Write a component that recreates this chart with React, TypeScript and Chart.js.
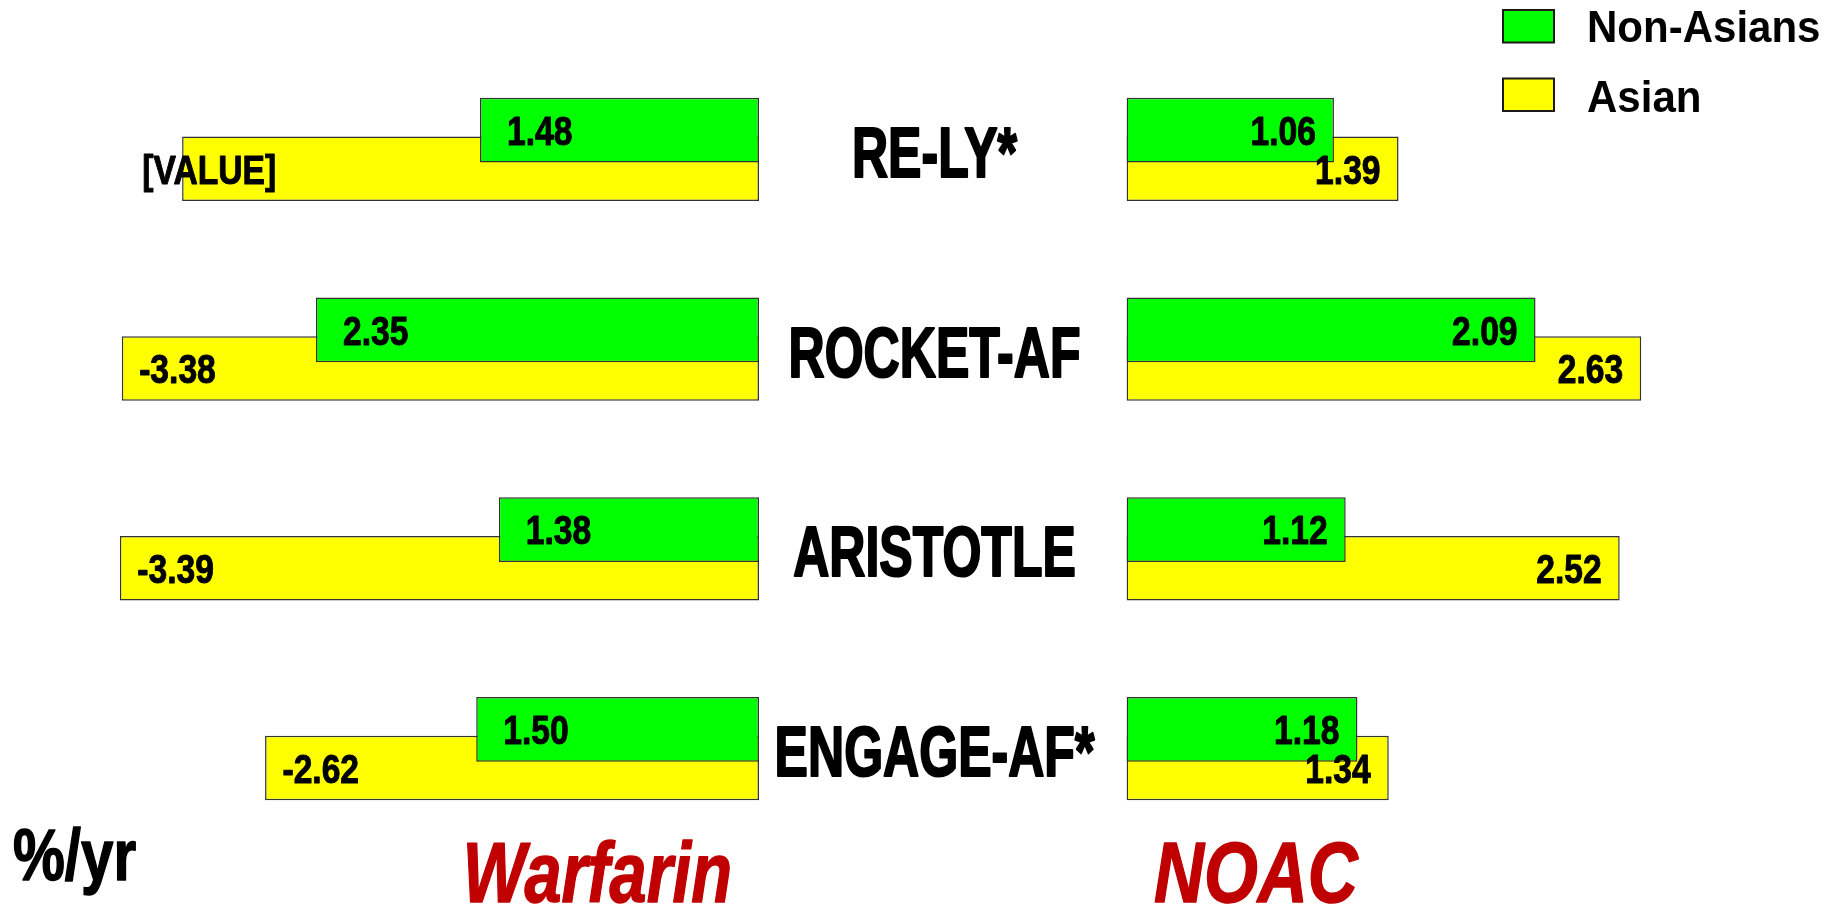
import React, { useEffect, useRef } from "react";
import { Chart, registerables } from "chart.js";

Chart.register(...registerables);

// ---------------- data ----------------
const categories = ["RE-LY*", "ROCKET-AF", "ARISTOTLE", "ENGAGE-AF*"];
const seriesNames = ["Non-Asians", "Asian"];
const warfarinNonAsians = [1.48, 2.35, 1.38, 1.5];
const warfarinAsian = [3.06, 3.38, 3.39, 2.62];
const noacNonAsians = [1.06, 2.09, 1.12, 1.18];
const noacAsian = [1.39, 2.63, 2.52, 1.34];
const warfarinNonAsiansLabels = ["1.48", "2.35", "1.38", "1.50"];
const warfarinAsianLabels = ["[VALUE]", "-3.38", "-3.39", "-2.62"];
const noacNonAsiansLabels = ["1.06", "2.09", "1.12", "1.18"];
const noacAsianLabels = ["1.39", "2.63", "2.52", "1.34"];
const panelTitles = ["Warfarin", "NOAC"];
const unitLabel = "%/yr";
const warfarinAxisMax = 4.026;
const noacAxisMax = 3.661;

// ---------------- styles / layout ----------------
const W = 1843;
const H = 907;
const SPLIT = 759;
const NOAC_LEFT = 1126.5;
const PAD_TOP = 49.6;
const PAD_BOTTOM = 58.4;
const GREEN = "#00FF00";
const YELLOW = "#FFFF00";
const EDGE = "#333333";
const TITLE_RED = "#C00000";
const FONT = '"Liberation Sans", Arial, Helvetica, sans-serif';
const VALUE_SIZE = 41;

function drawText(
  ctx: CanvasRenderingContext2D,
  text: string,
  x: number,
  y: number,
  font: string,
  scaleX: number,
  align: CanvasTextAlign,
  color: string,
  heavy = 0
) {
  ctx.save();
  ctx.font = font;
  ctx.fillStyle = color;
  ctx.textAlign = align;
  ctx.textBaseline = "alphabetic";
  ctx.translate(x, y);
  ctx.scale(scaleX, 1);
  ctx.fillText(text, 0, 0);
  if (heavy > 0) {
    ctx.strokeStyle = color;
    ctx.lineWidth = heavy;
    ctx.lineJoin = "round";
    ctx.strokeText(text, 0, 0);
  }
  ctx.restore();
}

function makeDatasets(a: number[], b: number[]) {
  const common = {
    borderColor: EDGE,
    borderWidth: 1.5,
    borderSkipped: false as const,
    categoryPercentage: 0.3875,
    barPercentage: 1.667,
  };
  return [
    { ...common, label: seriesNames[0], data: a, backgroundColor: GREEN },
    { ...common, label: seriesNames[1], data: b, backgroundColor: YELLOW },
  ];
}

const valueFont = `bold ${VALUE_SIZE}px ${FONT}`;
const valueBaseline = VALUE_SIZE * 0.358;

const warfarinTextPlugin = {
  id: "warfarinText",
  afterDatasetsDraw(chart: any) {
    const ctx = chart.ctx as CanvasRenderingContext2D;
    chart.getDatasetMeta(0).data.forEach((el: any, i: number) => {
      const p = el.getProps(["x", "y"], true);
      drawText(ctx, warfarinNonAsiansLabels[i], p.x + 27, p.y + valueBaseline, valueFont, 0.82, "left", "#000", 1);
    });
    chart.getDatasetMeta(1).data.forEach((el: any, i: number) => {
      const p = el.getProps(["x", "y"], true);
      drawText(ctx, warfarinAsianLabels[i], p.x + 94, p.y + valueBaseline, valueFont, 0.82, "right", "#000", 1);
    });
    drawText(ctx, unitLabel, 13, 880, `bold 72px ${FONT}`, 0.81, "left", "#000", 1.5);
    drawText(ctx, panelTitles[0], 462.7, 901.7, `italic bold 86px ${FONT}`, 0.775, "left", TITLE_RED, 1.5);
  },
};

const noacTextPlugin = {
  id: "noacText",
  afterDatasetsDraw(chart: any) {
    const ctx = chart.ctx as CanvasRenderingContext2D;
    const area = chart.chartArea;
    chart.getDatasetMeta(0).data.forEach((el: any, i: number) => {
      const p = el.getProps(["x", "y"], true);
      drawText(ctx, noacNonAsiansLabels[i], p.x - 18, p.y + valueBaseline, valueFont, 0.82, "right", "#000", 1);
    });
    chart.getDatasetMeta(1).data.forEach((el: any, i: number) => {
      const p = el.getProps(["x", "y"], true);
      drawText(ctx, noacAsianLabels[i], p.x - 18, p.y + valueBaseline, valueFont, 0.82, "right", "#000", 1);
    });
    // category labels, centred between the two panels
    const yScale = chart.scales.y;
    const catX = area.left - (NOAC_LEFT - 934.5);
    categories.forEach((c, i) => {
      const cy = yScale.getPixelForValue(i);
      drawText(ctx, c, catX, cy + 71 * 0.358 + 2, `bold 71px ${FONT}`, 0.705, "center", "#000", 2.2);
    });
    // legend
    const ox = -SPLIT;
    const boxes = [
      { y: 10, text: seriesNames[0], base: 42, color: chart.data.datasets[0].backgroundColor },
      { y: 78.5, text: seriesNames[1], base: 111.5, color: chart.data.datasets[1].backgroundColor },
    ];
    boxes.forEach((b) => {
      ctx.save();
      ctx.fillStyle = b.color;
      ctx.strokeStyle = "#1a1a1a";
      ctx.lineWidth = 2;
      ctx.fillRect(1503 + ox, b.y, 51, 32.5);
      ctx.strokeRect(1503 + ox, b.y, 51, 32.5);
      ctx.restore();
      drawText(ctx, b.text, 1587 + ox, b.base, `bold 44px ${FONT}`, 0.955, "left", "#000");
    });
    drawText(ctx, panelTitles[1], 1154 + ox, 901.7, `italic bold 86px ${FONT}`, 0.805, "left", TITLE_RED, 1.5);
  },
};

function baseOptions(max: number, reverse: boolean, padLeft: number): any {
  return {
    indexAxis: "y",
    animation: false,
    responsive: false,
    events: [],
    layout: { padding: { top: PAD_TOP, bottom: PAD_BOTTOM, left: padLeft, right: 0 } },
    scales: {
      x: { display: false, min: 0, max, reverse },
      y: { display: false },
    },
    plugins: {
      legend: { display: false },
      tooltip: { enabled: false },
      title: { display: false },
    },
  };
}

export default function App() {
  const leftRef = useRef<HTMLCanvasElement>(null);
  const rightRef = useRef<HTMLCanvasElement>(null);

  useEffect(() => {
    const left = new Chart(leftRef.current as HTMLCanvasElement, {
      type: "bar",
      data: { labels: categories, datasets: makeDatasets(warfarinNonAsians, warfarinAsian) as any },
      options: baseOptions(warfarinAxisMax, true, 0),
      plugins: [warfarinTextPlugin],
    });
    const right = new Chart(rightRef.current as HTMLCanvasElement, {
      type: "bar",
      data: { labels: categories, datasets: makeDatasets(noacNonAsians, noacAsian) as any },
      options: baseOptions(noacAxisMax, false, NOAC_LEFT - SPLIT),
      plugins: [noacTextPlugin],
    });
    return () => {
      left.destroy();
      right.destroy();
    };
  }, []);

  return (
    <div
      style={{
        position: "absolute",
        left: 0,
        top: 0,
        width: W,
        height: H,
        background: "#ffffff",
        overflow: "hidden",
      }}
    >
      <div style={{ position: "absolute", left: 0, top: 0, width: SPLIT, height: H }}>
        <canvas ref={leftRef} width={SPLIT} height={H} style={{ display: "block" }} />
      </div>
      <div style={{ position: "absolute", left: SPLIT, top: 0, width: W - SPLIT, height: H }}>
        <canvas ref={rightRef} width={W - SPLIT} height={H} style={{ display: "block" }} />
      </div>
    </div>
  );
}
